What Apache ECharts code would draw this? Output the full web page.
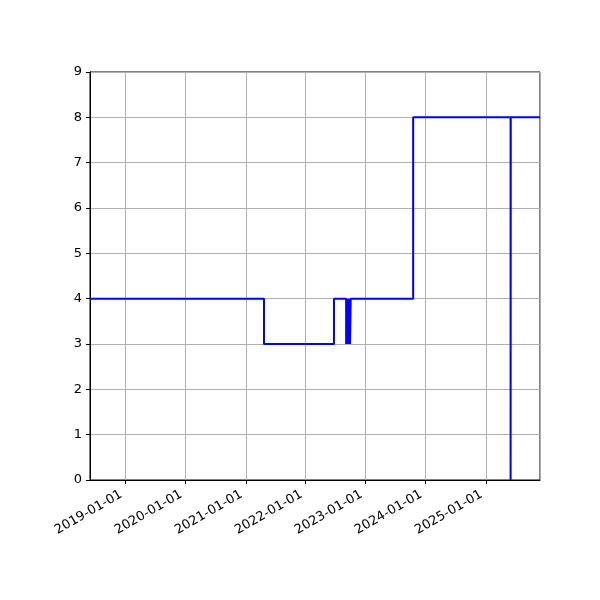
<!DOCTYPE html>
<html><head><meta charset="utf-8">
<script src="https://cdn.jsdelivr.net/npm/echarts@6/dist/echarts.min.js"></script>
<style>html,body{margin:0;padding:0;background:#fff}#c{width:600px;height:600px}</style>
</head><body><div id="c"></div>
<script>
const dates = ['2018-05-29','2021-04-22','2022-06-22','2022-09-04','2022-09-08','2022-09-12','2022-09-16','2022-09-20','2022-09-24','2022-09-28','2022-10-02','2023-10-17','2025-06-01','2025-06-02','2025-11-27'];
const values = [4,3,4,3,4,3,4,3,4,3,4,8,0,8,8];
const yTicks = [0,1,2,3,4,5,6,7,8,9];
const xStart = '2018-05-29', xEnd = '2025-11-27';

const chart = echarts.init(document.getElementById('c'), null, {renderer:'canvas'});
const ts = s => new Date(s + 'T00:00:00Z').getTime();
const DAY = 86400000;
const font = {fontFamily:'DejaVu Sans', fontSize:13, color:'#000'};
chart.setOption({
  animation:false,
  grid:{left:90, right:60, top:72, bottom:120, show:true, borderColor:'#000', borderWidth:1, backgroundColor:'transparent'},
  xAxis:{
    type:'time', min:ts(xStart), max:ts(xEnd),
    minInterval:365*DAY, maxInterval:366*DAY,
    axisLine:{show:true, lineStyle:{color:'#000', width:1}},
    axisTick:{show:true, length:4, lineStyle:{color:'#000'}},
    splitLine:{show:true, lineStyle:{color:'#b0b0b0', width:1}},
    axisLabel:Object.assign({rotate:30, margin:11, padding:[0,5,0,0], showMinLabel:false, showMaxLabel:false,
      formatter:v=>{const d=new Date(v);return d.getUTCFullYear()+'-'+String(d.getUTCMonth()+1).padStart(2,'0')+'-'+String(d.getUTCDate()).padStart(2,'0');}}, font)
  },
  yAxis:{
    type:'value', min:yTicks[0], max:yTicks[yTicks.length-1], interval:1,
    axisLine:{show:true, lineStyle:{color:'#000', width:1}},
    axisTick:{show:true, length:4, lineStyle:{color:'#000'}},
    splitLine:{show:true, lineStyle:{color:'#b0b0b0', width:1}},
    axisLabel:Object.assign({margin:8}, font)
  },
  series:[{
    type:'line', step:'end', symbol:'none',
    data: dates.map((d,i)=>[ts(d), values[i]]),
    lineStyle:{color:'#0000ff', width:2},
    clip:true
  }]
});
</script></body></html>
